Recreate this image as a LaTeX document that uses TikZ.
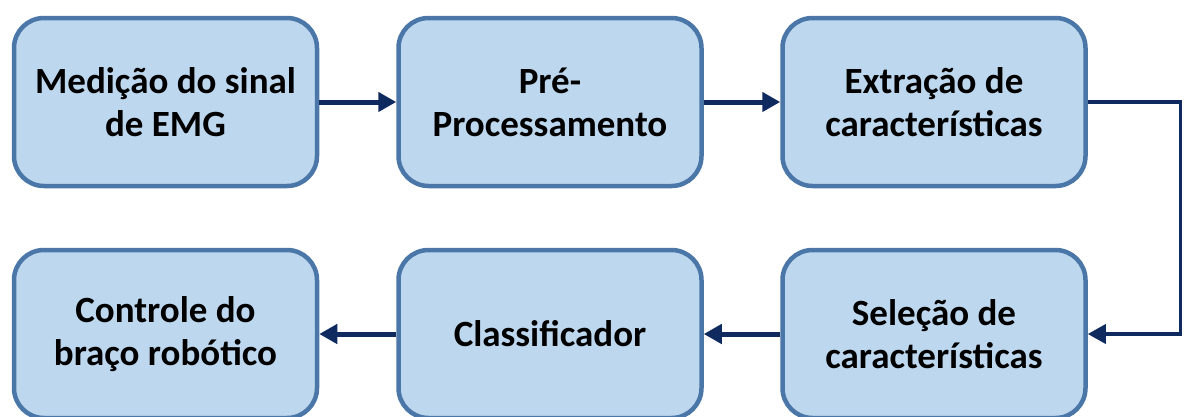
\documentclass[tikz,border=0pt]{standalone}
\usepackage{fontspec}
\setmainfont{Carlito}
\usetikzlibrary{arrows.meta}
\definecolor{boxfill}{HTML}{BDD7EE}
\definecolor{boxline}{HTML}{4A76A8}
\definecolor{flow}{HTML}{0F2A5E}
\tikzset{
  stage/.style={draw=boxline, fill=boxfill, line width=4.5pt, rounded corners=30pt,
    minimum width=303pt, minimum height=168pt, align=center,
    font=\fontsize{37}{43}\selectfont\bfseries, inner sep=0pt},
  flowarrow/.style={draw=flow, line width=5pt,
    -{Triangle[length=18pt,width=19pt]}}
}
\begin{document}
\begin{tikzpicture}[x=1pt,y=-1pt]
  \useasboundingbox (0,0) rectangle (1184,416);
  % upper row
  \node[stage] (med) at (165.5,102) {Medição do sinal\\de EMG};
  \node[stage] (pre) at (550,102) {Pré-\\Processamento};
  \node[stage] (ext) at (934,102) {Extração de\\características};
  % lower row
  \node[stage] (ctl) at (165.5,334) {Controle do\\braço robótico};
  \node[stage] (cls) at (550,334) {Classificador};
  \node[stage] (sel) at (934,334) {Seleção de\\características};
  % connectors
  \coordinate (turn) at (1180.5,0);
  \draw[flowarrow] (med.east) -- (pre.west);
  \draw[flowarrow] (pre.east) -- (ext.west);
  \draw[flowarrow, line width=3.5pt] (ext.east) -- (ext.east -| turn) -- (sel.east -| turn) -- (sel.east);
  \draw[flowarrow] (sel.west) -- (cls.east);
  \draw[flowarrow] (cls.west) -- (ctl.east);
\end{tikzpicture}
\end{document}
